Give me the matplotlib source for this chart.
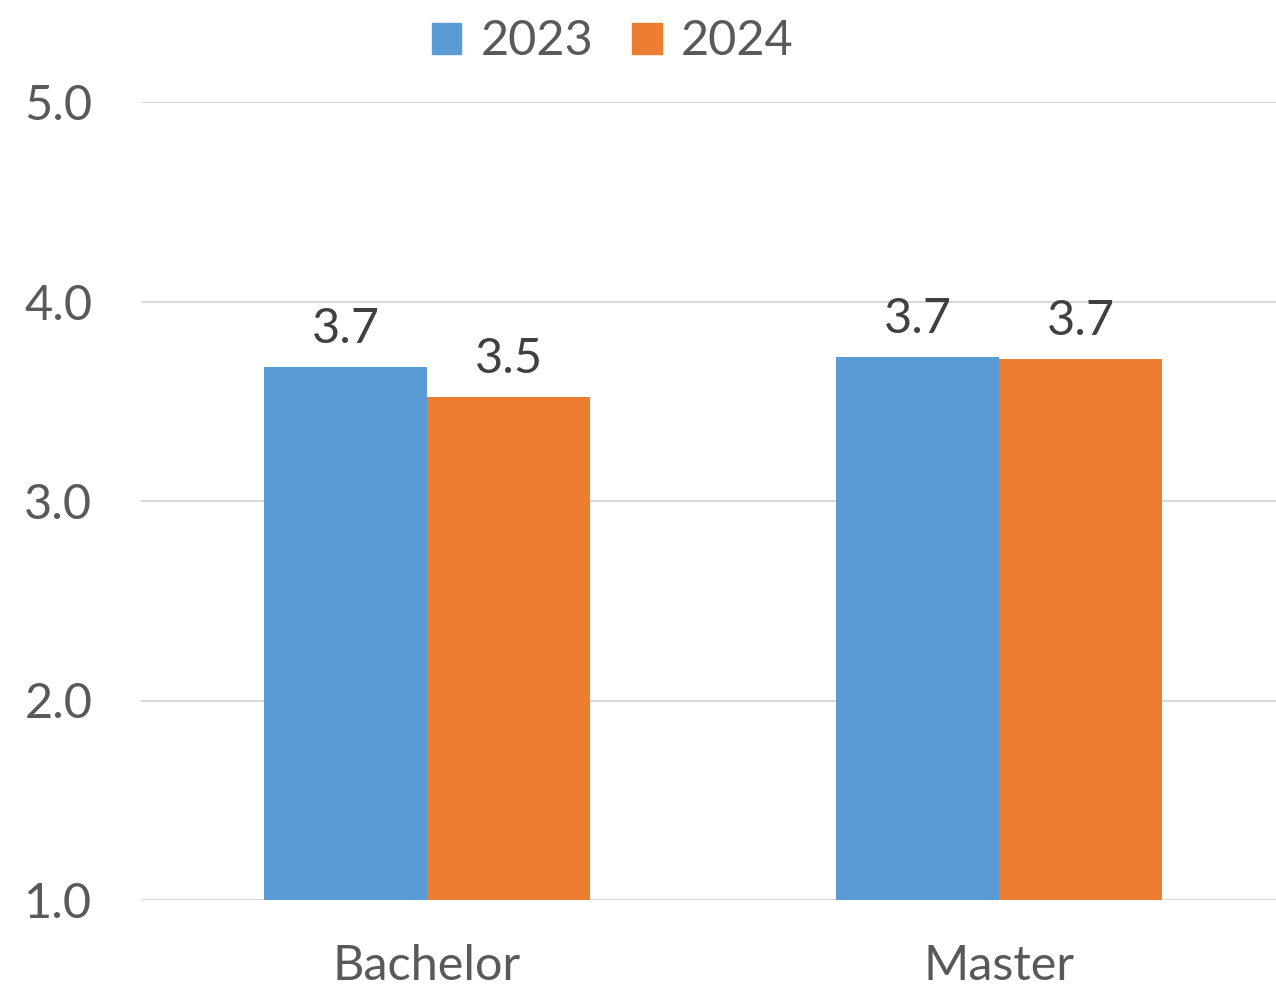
import matplotlib
matplotlib.use("Agg")
import matplotlib.pyplot as plt
import numpy as np
from matplotlib.patches import Patch

categories = ["Bachelor", "Master"]
years = ["2023", "2024"]
values_2023 = [3.67, 3.72]
values_2024 = [3.52, 3.71]
labels_2023 = ["3.7", "3.7"]
labels_2024 = ["3.5", "3.7"]
yticks = [1.0, 2.0, 3.0, 4.0, 5.0]

plt.rcParams['font.family'] = ['Lato', 'DejaVu Sans']

W, H = 1276, 990
fig = plt.figure(figsize=(W / 100, H / 100), dpi=100)
ax = fig.add_axes([141 / W, 90 / H, (1285 - 141) / W, 798 / H])

blue = "#5B9BD5"
orange = "#ED7D31"
text_col = "#595959"
label_col = "#404040"
fs = 35

x = np.arange(len(categories))
bw = 0.285
b1 = ax.bar(x - bw / 2, np.array(values_2023) - 1.0, bw, bottom=1.0, color=blue, zorder=3)
b2 = ax.bar(x + bw / 2, np.array(values_2024) - 1.0, bw, bottom=1.0, color=orange, zorder=3)

for bars, vals, labs in ((b1, values_2023, labels_2023), (b2, values_2024, labels_2024)):
    for r, v, l in zip(bars, vals, labs):
        ax.annotate(l, (r.get_x() + r.get_width() / 2, v), xytext=(0, 12),
                    textcoords="offset points", ha="center", va="bottom",
                    fontsize=fs, color=label_col)

ax.set_xlim(-0.5, 1.5)
ax.set_ylim(1.0, 5.0)
ax.set_yticks(yticks)
ax.set_yticklabels([f"{t:.1f}" for t in yticks])
ax.set_xticks(x)
ax.set_xticklabels(categories)
ax.tick_params(axis="both", length=0, labelsize=fs, colors=text_col)
ax.tick_params(axis="y", pad=35)
ax.tick_params(axis="x", pad=32)
ax.grid(axis="y", color="#D9D9D9", linewidth=1.5, zorder=0)
for s in ax.spines.values():
    s.set_visible(False)

handles = [Patch(color=blue, label=years[0]), Patch(color=orange, label=years[1])]
fig.legend(handles=handles, loc="upper center", bbox_to_anchor=(613 / W, 1.0),
           ncol=2, frameon=False, fontsize=fs, labelcolor=text_col,
           handlelength=0.6, handleheight=0.6, handletextpad=0.4, columnspacing=0.8,
           borderaxespad=0.0)

fig.savefig("out.png", dpi=100)
